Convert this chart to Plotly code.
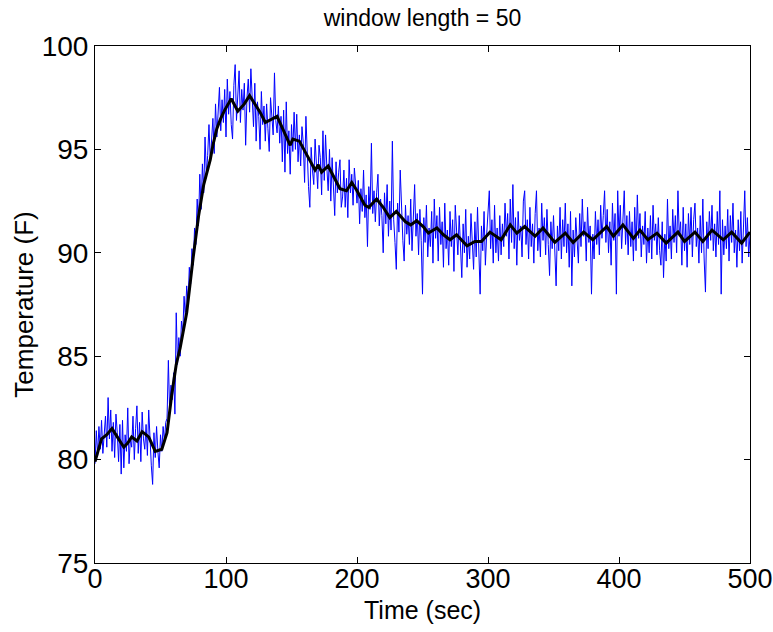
import plotly.graph_objects as go

# Raw temperature readings, one per second from t = 0 to t = 500 s
temp_raw = [
    79.8, 81.4, 80.2, 81.6, 80.5, 81.9, 80.3, 81.2, 82.1, 80.6,
    83.0, 81.0, 82.4, 80.4, 81.8, 80.1, 82.2, 81.3, 79.9, 81.7,
    79.3, 81.9, 79.6, 81.2, 80.4, 82.5, 79.8, 81.0, 80.6, 82.1,
    80.0, 81.5, 82.6, 80.3, 81.8, 79.9, 82.3, 81.0, 80.5, 81.7,
    80.2, 82.4, 80.8, 79.7, 78.8, 81.3, 80.1, 81.6, 80.4, 79.6,
    81.2, 80.4, 81.6, 80.9, 81.8, 82.0, 84.8, 82.3, 83.6, 82.9,
    84.2, 82.2, 87.1, 84.6, 85.9, 85.0, 86.7, 86.1, 87.9, 86.8,
    88.4, 87.6, 89.3, 88.5, 90.2, 89.4, 91.2, 90.4, 92.6, 91.3,
    93.8, 92.1, 94.3, 92.9, 95.6, 93.8, 94.7, 96.2, 94.4, 95.3,
    96.5, 94.8, 97.2, 95.6, 96.9, 98.0, 95.9, 97.4, 96.3, 97.9,
    95.6, 98.4, 96.7, 97.8, 96.2, 95.5, 98.1, 99.1, 96.4, 97.7,
    98.8, 96.3, 97.9, 96.9, 98.2, 95.2, 97.5, 98.4, 96.8, 98.9,
    97.0, 96.1, 98.2, 95.4, 97.3, 96.6, 95.0, 97.8, 96.2, 97.1,
    95.4, 97.2, 96.0, 94.9, 97.5, 96.3, 95.7, 98.7, 96.4, 95.8,
    97.1, 95.3, 96.6, 94.4, 96.9, 93.9, 97.3, 94.8, 95.9, 93.8,
    96.2, 94.9, 96.8, 95.0, 96.7, 94.4, 95.7, 94.2, 96.1, 95.3,
    93.4, 96.6, 94.5, 93.2, 92.2, 95.1, 94.0, 93.3, 95.5, 94.2,
    93.1, 95.2, 94.6, 92.8, 95.9, 93.5, 95.7, 94.1, 93.0, 95.0,
    92.5, 94.6, 93.3, 91.8, 94.4, 92.9, 93.9, 94.5, 92.2, 92.7,
    94.0, 92.2, 93.6, 91.7, 94.5, 92.9, 93.8, 92.3, 94.1, 93.0,
    92.4, 93.5, 91.4, 93.1, 92.0, 94.0, 91.7, 92.8, 90.3, 93.2,
    92.1, 95.3, 91.9, 93.0, 91.5, 92.9, 93.8, 91.3, 92.6, 91.8,
    90.0, 92.9, 91.4, 93.3, 90.8, 92.5, 91.1, 95.4, 91.6, 90.5,
    89.2, 92.4, 91.0, 94.0, 91.7, 90.6, 89.6, 92.3, 90.9, 91.8,
    90.4, 92.6, 90.1, 91.4, 93.3, 90.8, 91.9, 89.9, 92.1, 90.6,
    88.0, 91.7, 90.5, 92.3, 89.8, 91.2, 90.3, 92.0, 89.5, 92.6,
    90.7, 91.8, 89.6, 92.2, 90.4, 91.5, 89.3, 92.4, 90.2, 91.1,
    89.4, 92.0, 90.3, 91.6, 89.1, 92.3, 90.7, 89.9, 91.8, 90.1,
    88.8, 91.4, 90.0, 92.1, 89.3, 90.8, 89.7, 91.9, 90.2, 89.2,
    91.5, 89.8, 92.2, 90.4, 88.0, 91.3, 90.1, 92.0, 89.4, 90.9,
    92.1, 93.0, 90.2, 91.6, 89.5, 92.3, 90.0, 91.2, 89.6, 91.8,
    89.9, 91.4, 90.3, 92.4, 90.8, 91.9, 89.7, 92.6, 90.5, 93.3,
    90.2, 91.7, 89.4, 92.0, 90.6, 91.3, 89.8, 92.5, 93.0, 90.4,
    91.6, 89.7, 92.2, 90.3, 91.4, 89.5, 91.9, 93.0, 90.1, 91.2,
    89.8, 92.4, 90.6, 91.7, 89.9, 92.1, 90.4, 88.9, 91.5, 90.2,
    91.8, 89.6, 88.4, 91.3, 90.1, 92.2, 89.7, 91.6, 90.3, 92.4,
    90.0, 91.4, 89.3, 92.0, 88.4, 91.1, 89.8, 91.7, 90.2, 89.5,
    91.9, 90.3, 92.6, 90.8, 91.5, 89.6, 92.2, 90.5, 91.3, 88.0,
    90.9, 89.7, 92.0, 90.4, 91.6, 89.9, 92.3, 90.7, 91.8, 93.0,
    90.5, 92.1, 90.0, 91.5, 89.4, 92.4, 90.6, 91.9, 88.0, 93.0,
    90.8, 92.3, 90.2, 91.6, 93.0, 90.4, 91.8, 89.9, 92.0, 90.3,
    91.5, 89.6, 92.2, 90.1, 92.8, 90.7, 91.9, 89.8, 91.3, 90.4,
    92.0, 89.5, 91.2, 90.0, 91.8, 89.7, 92.3, 90.6, 91.4, 89.9,
    91.7, 90.1, 89.4, 91.5, 88.8, 90.9, 89.6, 92.6, 90.2, 91.3,
    89.7, 92.1, 90.5, 91.8, 90.0, 93.0, 90.8, 91.5, 89.4, 92.2,
    90.1, 91.4, 89.3, 91.9, 90.4, 92.2, 89.8, 91.6, 92.4, 90.3,
    91.2, 89.5, 91.8, 90.0, 92.6, 89.7, 88.1, 91.5, 90.2, 92.0,
    90.6, 92.3, 90.1, 91.4, 89.8, 92.0, 90.4, 93.0, 88.0, 91.6,
    89.9, 91.3, 90.2, 92.1, 89.6, 91.8, 90.5, 92.4, 90.0, 91.1,
    89.3, 91.6, 90.1, 92.0, 89.5, 91.2, 93.0, 90.3, 91.7, 89.8,
    90.9,
]
time_raw = list(range(len(temp_raw)))

# Smoothed curve (moving average, window length 50)
time_smooth = [
    0, 3, 5, 9, 13, 17, 22, 25, 28, 32, 36, 41, 46, 51, 55, 58.5, 62, 65,
    70, 75, 79, 83, 88, 90, 93, 96, 99, 104, 109, 114, 118, 123, 126, 130,
    135, 139, 144, 149, 151, 156, 162, 168, 170.5, 173, 178, 182, 187, 192,
    196, 200, 206, 209, 215, 220, 225, 230, 237, 241, 245.5, 250.5, 254.5,
    261, 266, 271, 276, 284, 290, 295, 301.5, 310, 317, 322, 328, 336, 342,
    351, 359, 365, 373, 380, 390.6, 395.7, 403, 411, 416, 422, 429, 436,
    445, 450, 458, 464, 471, 479.6, 486, 493.6, 500,
]
temp_smooth = [
    79.9, 80.6, 81.0, 81.2, 81.5, 81.1, 80.6, 80.8, 81.1, 80.9, 81.35, 81.1,
    80.4, 80.5, 81.3, 83.1, 84.6, 85.4, 87.1, 89.8, 91.75, 93.3, 94.5, 95.2,
    96.0, 96.5, 96.9, 97.45, 96.85, 97.2, 97.6, 97.1, 96.8, 96.3, 96.45,
    96.6, 95.9, 95.2, 95.5, 95.4, 94.7, 94.0, 94.25, 93.9, 94.2, 93.7, 93.1,
    93.0, 93.4, 93.0, 92.3, 92.2, 92.6, 92.2, 91.7, 92.0, 91.5, 91.35,
    91.55, 91.27, 90.95, 91.2, 90.87, 90.63, 90.87, 90.34, 90.55, 90.55,
    91.0, 90.63, 91.35, 90.95, 91.27, 90.8, 91.2, 90.5, 90.95, 90.5, 91.0,
    90.63, 91.27, 90.8, 91.35, 90.7, 91.1, 90.63, 90.95, 90.47, 91.0,
    90.55, 91.0, 90.55, 91.1, 90.63, 91.0, 90.47, 91.0,
]

x_ticks = [0, 100, 200, 300, 400, 500]
y_ticks = [75, 80, 85, 90, 95, 100]

FONT = "Liberation Sans, Arial, Helvetica, sans-serif"

fig = go.Figure()
fig.add_trace(go.Scatter(
    x=time_raw, y=temp_raw, mode="lines",
    line=dict(color="#0000ff", width=1), showlegend=False,
))
fig.add_trace(go.Scatter(
    x=time_smooth, y=temp_smooth, mode="lines",
    line=dict(color="#000000", width=3), showlegend=False,
))

axis_common = dict(
    showline=True, linecolor="black", linewidth=1, mirror="ticks",
    ticks="inside", ticklen=6, tickcolor="black", tickwidth=1,
    showgrid=False, zeroline=False, ticklabeloverflow="allow",
    automargin=False,
)

fig.update_xaxes(
    range=[0, 500], tickvals=x_ticks, ticktext=[str(v) for v in x_ticks],
    ticklabelstandoff=-8,
    tickfont=dict(family=FONT, size=27, color="black"),
    **axis_common,
)
fig.update_yaxes(
    range=[75, 100], tickvals=y_ticks, ticktext=[str(v) for v in y_ticks],
    tickfont=dict(family=FONT, size=28, color="black"),
    title=dict(text="Temperature (F)", font=dict(family=FONT, size=26, color="black"), standoff=0),
    **axis_common,
)

# x-axis label placed just under the tick labels
fig.add_annotation(
    text="Time (sec)", x=0.5, xref="paper", y=-47 / 517, yref="paper",
    xanchor="center", yanchor="middle", showarrow=False,
    font=dict(family=FONT, size=25, color="black"),
)

fig.update_layout(
    width=773, height=632,
    margin=dict(l=95, r=23, t=46, b=69),
    paper_bgcolor="white", plot_bgcolor="white",
    title=dict(
        text="window length = 50", x=0.5, xref="paper", xanchor="center",
        y=1 - 18 / 632, yanchor="middle",
        font=dict(family=FONT, size=23, color="black"),
    ),
)

fig.write_html("out.html")
